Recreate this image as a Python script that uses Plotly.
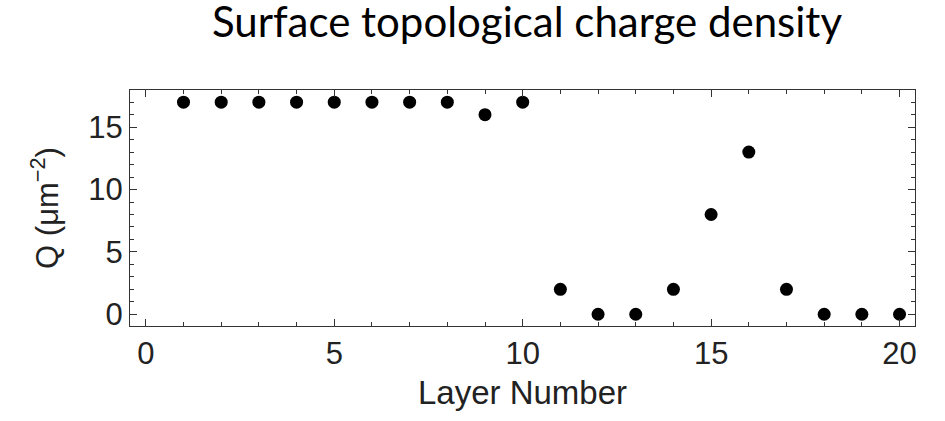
import plotly.graph_objects as go

layers = list(range(1, 21))
charge = [17, 17, 17, 17, 17, 17, 17, 17, 16, 17, 2, 0, 0, 2, 8, 13, 2, 0, 0, 0]

FONT = "Liberation Sans, Arial"

axis_common = dict(
    showline=True, linecolor="#333", linewidth=1.2, mirror="allticks",
    ticks="inside", ticklen=7, tickwidth=1, tickcolor="#333",
    showgrid=False, zeroline=False,
    tickfont=dict(family=FONT, size=31, color="#222"),
    minor=dict(ticks="inside", ticklen=4, tickwidth=1, tickcolor="#333", dtick=1, showgrid=False),
)

fig = go.Figure()
fig.add_trace(go.Scatter(x=layers, y=charge, mode="markers",
                         marker=dict(color="black", size=13), showlegend=False))

fig.update_xaxes(range=[-0.42, 20.41], dtick=5, tick0=0,
                 title=dict(text="Layer Number", font=dict(family=FONT, size=33, color="#222"), standoff=10),
                 **axis_common)
fig.update_yaxes(range=[-0.94, 17.98], dtick=5, tick0=0,
                 title=dict(text="Q (μm<sup>−2</sup>)", font=dict(family=FONT, size=31, color="#222"), standoff=20),
                 **axis_common)

fig.update_layout(
    width=945, height=421,
    margin=dict(l=130, r=30, t=90, b=95),
    plot_bgcolor="white", paper_bgcolor="white",
    title=dict(text="Surface topological charge density", x=527 / 945, xanchor="center",
               xref="container", yref="container", y=1 - 22 / 421, yanchor="middle",
               font=dict(family="Lato, Open Sans", size=42, color="black")),
)

fig.write_html("out.html")
